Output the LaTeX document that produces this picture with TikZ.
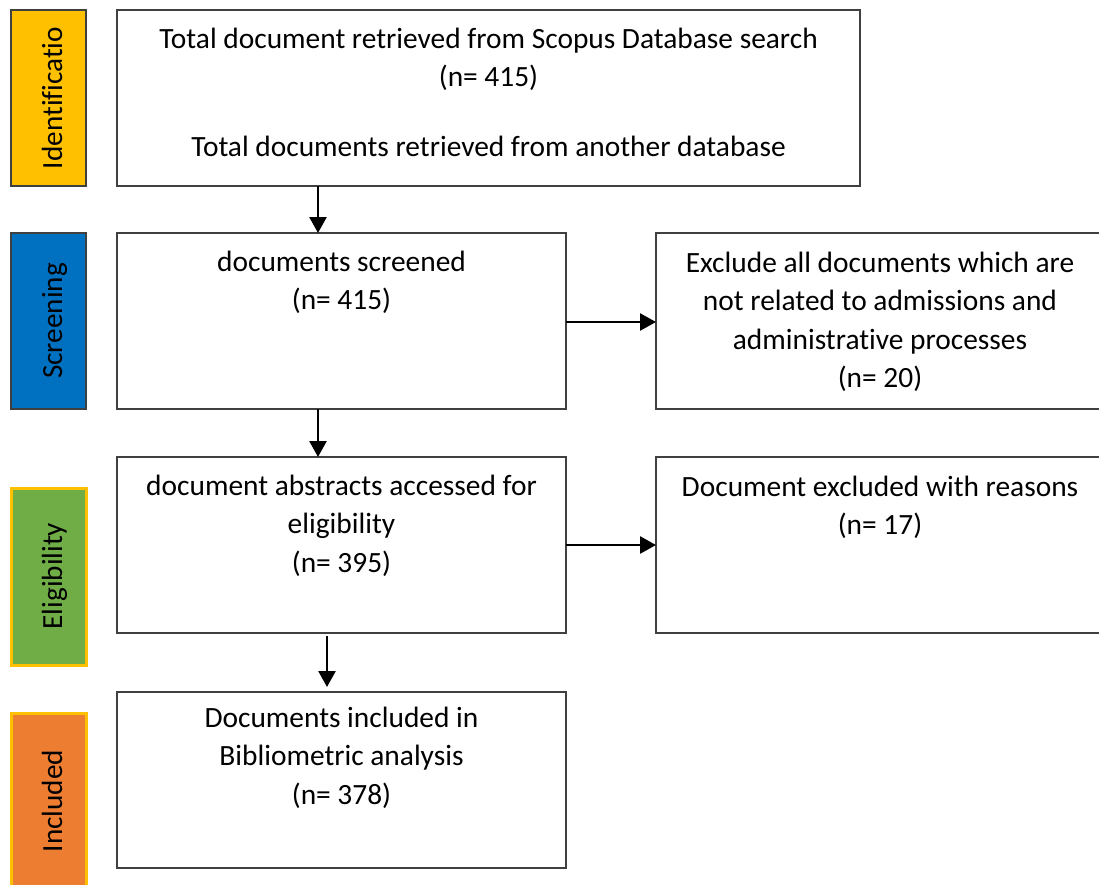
\documentclass[tikz,border=0pt]{standalone}
\usepackage{fontspec}
\setmainfont{Carlito}[RawFeature={-liga;-clig;-calt;-dlig}]
\usetikzlibrary{arrows.meta}
\definecolor{boxgray}{HTML}{404040}
\definecolor{cIdent}{HTML}{FFC000}
\definecolor{cScreen}{HTML}{0070C0}
\definecolor{cElig}{HTML}{70AD47}
\definecolor{cIncl}{HTML}{ED7D31}
\begin{document}
\begin{tikzpicture}[x=1pt,y=-1pt,
  box/.style={draw=boxgray, line width=1.5pt, fill=white, anchor=north west, inner sep=0pt, outer sep=0pt},
  bar/.style={line width=1.5pt, anchor=north west, inner sep=0pt, outer sep=0pt, minimum width=75pt},
  txt/.style={anchor=base, inner sep=0pt, font=\fontsize{29.4}{38.5}\selectfont},
  side/.style={anchor=base, rotate=90, inner sep=0pt, font=\fontsize{29.2}{34}\selectfont},
  arr/.style={line width=2.6pt, -{Triangle[length=16pt,width=17pt]}}
]
\useasboundingbox (0,0) rectangle (1099,884);
% side bars
\node[bar, draw=boxgray, fill=cIdent, minimum height=176pt] (s1) at (11,10) {};
\node[bar, draw=boxgray, fill=cScreen, minimum height=176pt] (s2) at (11,233) {};
\node[bar, draw=cIdent, line width=3pt, fill=cElig, minimum height=177pt] (s3) at (11,488) {};
\node[bar, draw=cIdent, line width=3pt, fill=cIncl, minimum height=178pt] (s4) at (11,713) {};
\node[side] (l1) at (62,98) {Identificatio};
\node[side] (l2) at (62,321) {Screening};
\node[side] (l3) at (62,576) {Eligibility};
\node[side] (l4) at (62,801) {Included};
% boxes
\node[box, minimum width=743pt, minimum height=176pt] (b1) at (117,10) {};
\node[box, minimum width=449pt, minimum height=176pt] (b2) at (117,233) {};
\node[box, minimum width=449pt, minimum height=176pt] (b3) at (117,457) {};
\node[box, minimum width=449pt, minimum height=176pt] (b4) at (117,692) {};
\node[box, minimum width=448pt, minimum height=176pt] (r2) at (656,233) {};
\node[box, minimum width=448pt, minimum height=176pt] (r3) at (656,457) {};
% texts
\node[txt] (t1) at ([yshift=-38pt]b1.north) {\parbox[t]{730pt}{\centering Total document retrieved from Scopus Database search\\(n= 415)\\[31.5pt]Total documents retrieved from another database}};
\node[txt] (t2) at ([yshift=-38pt]b2.north) {\parbox[t]{440pt}{\centering documents screened\\(n= 415)}};
\node[txt] (t3) at ([yshift=-38pt]b3.north) {\parbox[t]{440pt}{\centering document abstracts accessed for\\eligibility\\(n= 395)}};
\node[txt] (t4) at ([yshift=-35pt]b4.north) {\parbox[t]{440pt}{\centering Documents included in\\Bibliometric analysis\\(n= 378)}};
\node[txt] (u2) at ([yshift=-39pt]r2.north) {\parbox[t]{440pt}{\centering Exclude all documents which are\\not related to admissions and\\administrative processes\\(n= 20)}};
\node[txt] (u3) at ([yshift=-39pt]r3.north) {\parbox[t]{440pt}{\centering Document excluded with reasons\\(n= 17)}};
% arrows
\coordinate (a1s) at (318,186);
\coordinate (a2s) at (318,409);
\coordinate (a3s) at (327,636);
\coordinate (a3e) at (327,687);
\draw[arr] (a1s) -- (a1s |- b2.north);
\draw[arr] (a2s) -- (a2s |- b3.north);
\draw[arr] (a3s) -- (a3e);
\draw[arr] (b2.east |- 0,322) -- (r2.west |- 0,322);
\draw[arr] (b3.east |- 0,545) -- (r3.west |- 0,545);
\end{tikzpicture}
\end{document}
